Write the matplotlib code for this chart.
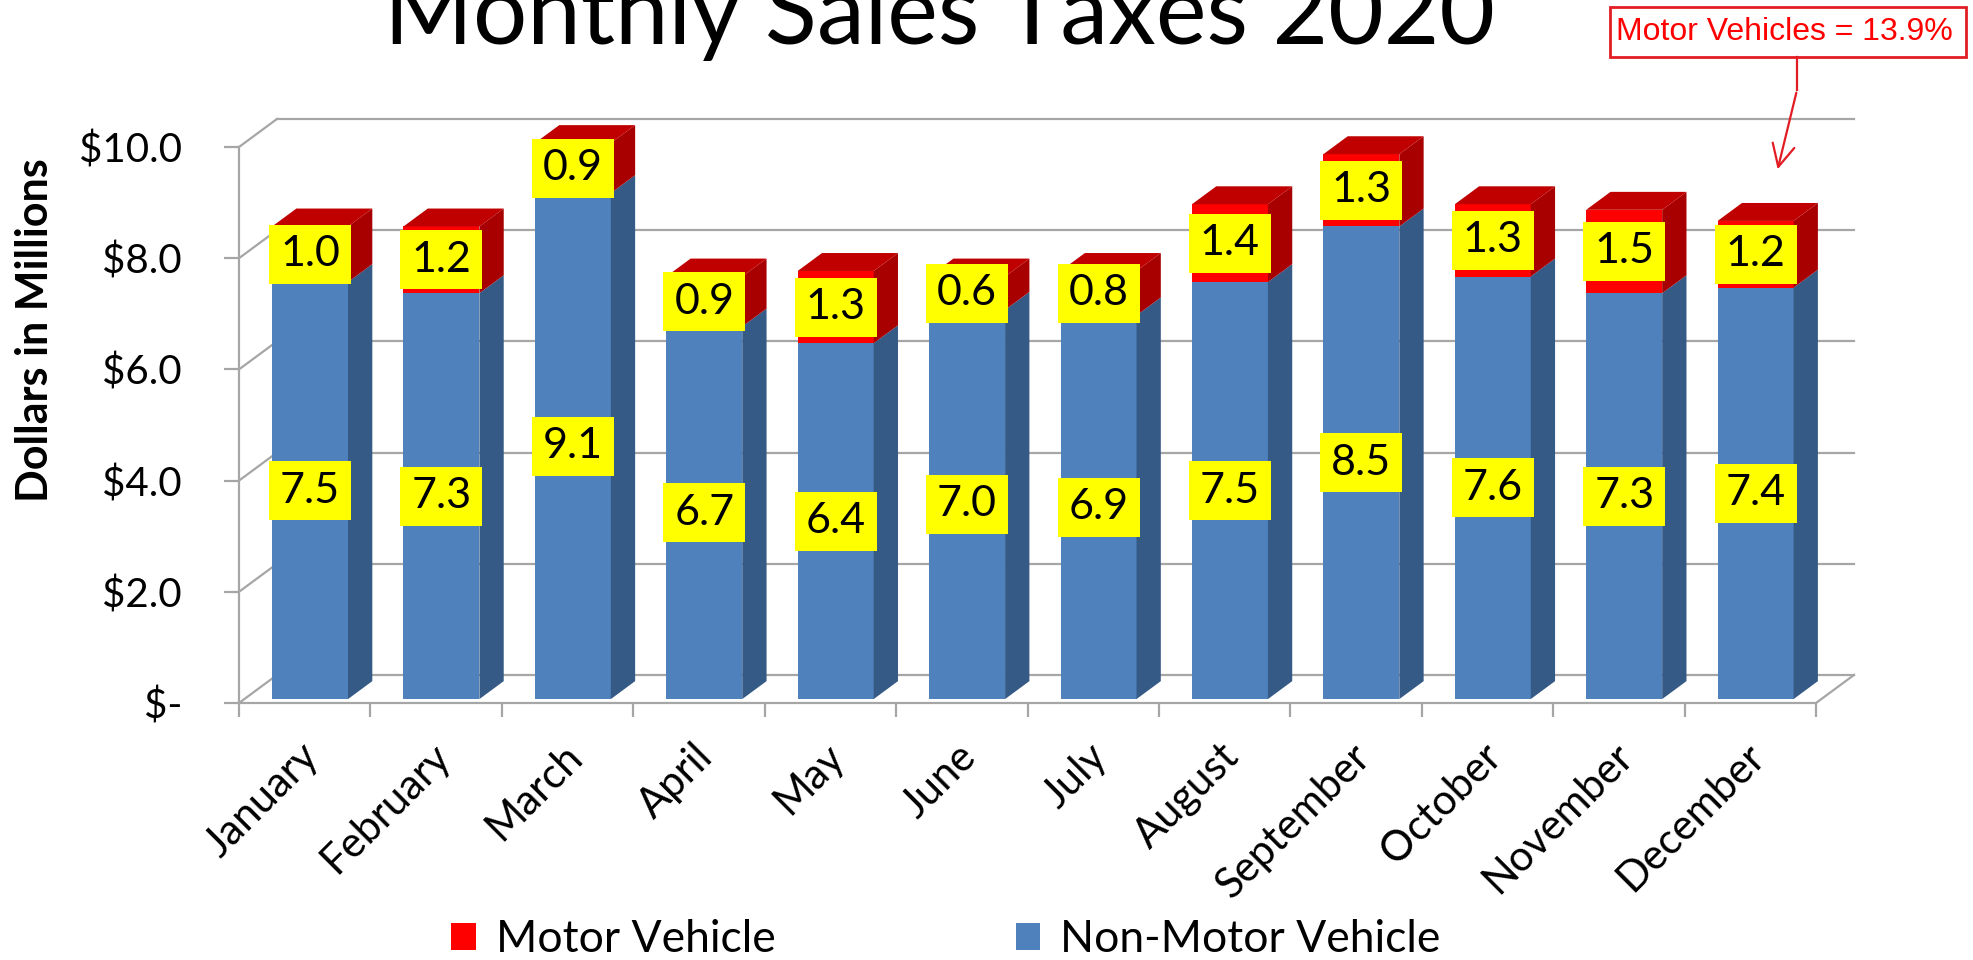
import matplotlib
matplotlib.use("Agg")
import matplotlib.pyplot as plt
from matplotlib.patches import Polygon, Rectangle
from matplotlib.lines import Line2D
import numpy as np

plt.rcParams['font.family'] = ['Lato', 'DejaVu Sans']

months = ['January', 'February', 'March', 'April', 'May', 'June', 'July',
          'August', 'September', 'October', 'November', 'December']
non_motor = np.array([7.5, 7.3, 9.1, 6.7, 6.4, 7.0, 6.9, 7.5, 8.5, 7.6, 7.3, 7.4])
motor = np.array([1.0, 1.2, 0.9, 0.9, 1.3, 0.6, 0.8, 1.4, 1.3, 1.3, 1.5, 1.2])
yticks = [0, 2, 4, 6, 8, 10]
ytick_labels = ['$-', '$2.0', '$4.0', '$6.0', '$8.0', '$10.0']

W, H = 1973, 960
fig = plt.figure(figsize=(W / 100, H / 100), dpi=100)
ax = fig.add_axes([239 / W, 1 - 703 / H, (1816 - 239) / W, (703 - 147) / H])
ax.set_xlim(0, 12)
ax.set_ylim(0, 10)

grey = '#A6A6A6'
# depth of the floor / walls in data units
DX, DY = 0.289, 0.504

# back wall and side wall gridlines
for yv in yticks:
    ax.plot([DX, 12 + DX], [yv + DY, yv + DY], color=grey, lw=1.6, zorder=1, clip_on=False)
    ax.plot([0, DX], [yv, yv + DY], color=grey, lw=1.6, zorder=1, clip_on=False)
ax.plot([12, 12 + DX], [0, DY], color=grey, lw=1.6, zorder=1, clip_on=False)

for s in ['top', 'right']:
    ax.spines[s].set_visible(False)
for s in ['left', 'bottom']:
    ax.spines[s].set_color(grey)
    ax.spines[s].set_linewidth(1.6)

ax.set_yticks(yticks)
ax.set_yticklabels(ytick_labels)
ax.tick_params(axis='y', length=11, width=1.6, color=grey, pad=30, labelsize=29)
ax.set_xticks(range(13))
ax.set_xticklabels([])
ax.tick_params(axis='x', length=10, width=1.6, color=grey)

# bars: front plane a bit behind the floor edge
fx, fy = 0.14 * DX, 0.14 * DY
ddx, ddy = 0.64 * DX, 0.64 * DY
xc = np.arange(12) + 0.5 + fx
bw = 0.578
b1 = ax.bar(xc, non_motor, width=bw, bottom=fy, color='#4F81BD',
            label='Non-Motor Vehicle', zorder=3)
b2 = ax.bar(xc, motor, width=bw, bottom=fy + non_motor, color='#FF0000',
            label='Motor Vehicle', zorder=3)

def add_faces(rect, side_c, top_c=None):
    x0, y0 = rect.get_x(), rect.get_y()
    x1, y1 = x0 + rect.get_width(), y0 + rect.get_height()
    ax.add_patch(Polygon([(x1, y0), (x1 + ddx, y0 + ddy), (x1 + ddx, y1 + ddy), (x1, y1)],
                         closed=True, color=side_c, lw=0, zorder=3, clip_on=False))
    if top_c:
        ax.add_patch(Polygon([(x0, y1), (x1, y1), (x1 + ddx, y1 + ddy), (x0 + ddx, y1 + ddy)],
                             closed=True, color=top_c, lw=0, zorder=3, clip_on=False))

for r in b1:
    add_faces(r, '#365A86')
for r in b2:
    add_faces(r, '#A80000', '#C00000')

# value labels in yellow boxes
lw_box, lh_box = 0.624, 1.06
for bars, vals in [(b1, non_motor), (b2, motor)]:
    for r, v in zip(bars, vals):
        cx = r.get_x() + r.get_width() / 2
        cy = r.get_y() + r.get_height() / 2
        ax.add_patch(Rectangle((cx - lw_box / 2, cy - lh_box / 2), lw_box, lh_box,
                               color='#FFFF00', lw=0, zorder=5, clip_on=False))
        ax.text(cx, cy, f'{v:.1f}', ha='center', va='center', fontsize=31,
                color='black', zorder=6, clip_on=False)

# month labels
for i, m in enumerate(months):
    ax.text(i + 0.56, -0.85, m, rotation=45, ha='right', va='center',
            rotation_mode='anchor', fontsize=30, clip_on=False)

fig.text(35 / W, 1 - 330 / H, 'Dollars in Millions', rotation=90, ha='center',
         va='center', fontsize=31, fontweight='bold')

fig.text(940 / W, 1 - 44 / H, 'Monthly Sales Taxes 2020', ha='center',
         va='baseline', fontsize=69)

fig.legend(handles=[b2, b1], labels=['Motor Vehicle', 'Non-Motor Vehicle'],
           loc='center', bbox_to_anchor=(946 / W, 1 - 940 / H), ncol=2,
           frameon=False, fontsize=32, handlelength=0.55, handleheight=0.55,
           handletextpad=0.45, columnspacing=5.4)

# note box with arrow
note_c = '#E31C24'
fig.add_artist(Rectangle((1610 / W, 1 - 57 / H), (1966 - 1610) / W, 50 / H,
                         transform=fig.transFigure, fill=False, ec=note_c, lw=2))
fig.text(1616 / W, 1 - 32 / H, 'Motor Vehicles = 13.9%', ha='left', va='center',
         fontsize=23, color='#FF0000', family='Liberation Sans')
fig.add_artist(Line2D([1797 / W, 1797 / W], [1 - 57 / H, 1 - 90 / H],
                      transform=fig.transFigure, color=note_c, lw=1.6))
ax.annotate('', xy=(1777 / W, 1 - 172 / H), xycoords='figure fraction',
            xytext=(1797 / W, 1 - 90 / H), textcoords='figure fraction',
            arrowprops=dict(arrowstyle='->', color=note_c, lw=1.6, mutation_scale=40))

fig.savefig('out.png', dpi=100)
